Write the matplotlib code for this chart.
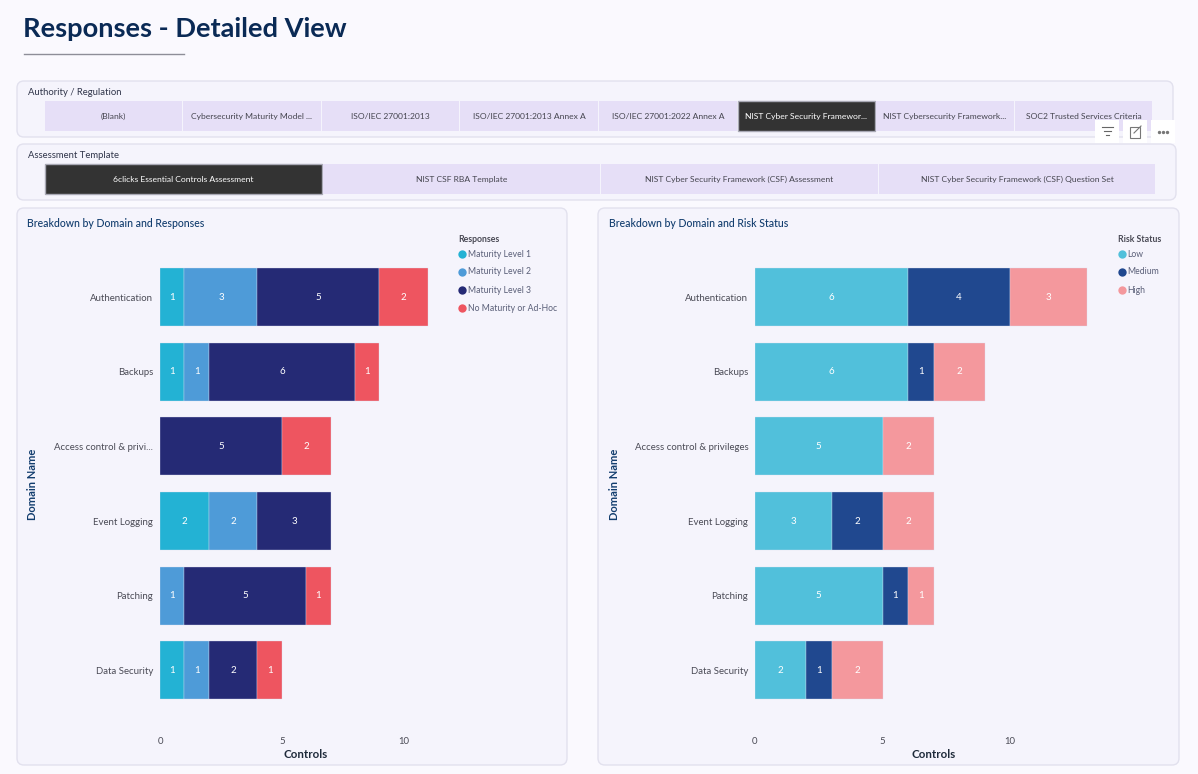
import matplotlib
matplotlib.use("Agg")
import matplotlib.pyplot as plt
from matplotlib.patches import FancyBboxPatch, Rectangle
import numpy as np

plt.rcParams['font.family'] = ['Lato', 'DejaVu Sans']

TITLE = "Responses - Detailed View"
domains_left = ["Authentication", "Backups", "Access control & privi...", "Event Logging", "Patching", "Data Security"]
domains_right = ["Authentication", "Backups", "Access control & privileges", "Event Logging", "Patching", "Data Security"]

maturity_1 = [1, 1, 0, 2, 0, 1]
maturity_2 = [3, 1, 0, 2, 1, 1]
maturity_3 = [5, 6, 5, 3, 5, 2]
no_maturity = [2, 1, 2, 0, 1, 1]
response_names = ["Maturity Level 1", "Maturity Level 2", "Maturity Level 3", "No Maturity or Ad-Hoc"]

risk_low = [6, 6, 5, 3, 5, 2]
risk_medium = [4, 1, 0, 2, 1, 1]
risk_high = [3, 2, 2, 2, 1, 2]
risk_names = ["Low", "Medium", "High"]

authority_items = ["(Blank)", "Cybersecurity Maturity Model ...", "ISO/IEC 27001:2013", "ISO/IEC 27001:2013 Annex A",
                   "ISO/IEC 27001:2022 Annex A", "NIST Cyber Security Framewor...", "NIST Cybersecurity Framework...",
                   "SOC2 Trusted Services Criteria"]
template_items = ["6clicks Essential Controls Assessment", "NIST CSF RBA Template",
                  "NIST Cyber Security Framework (CSF) Assessment", "NIST Cyber Security Framework (CSF) Question Set"]

W, H = 1198, 774
fig = plt.figure(figsize=(W / 100, H / 100), dpi=100, facecolor="#FAF9FE")
bg = fig.add_axes([0, 0, 1, 1], zorder=0)
bg.set_xlim(0, W); bg.set_ylim(H, 0); bg.axis("off")

PANEL = "#F5F4FC"; EDGE = "#E2E1EE"; SLICER = "#E6DFF7"; DARK = "#333333"
TXT = "#4A4A55"


def panel(x0, y0, x1, y1):
    bg.add_patch(FancyBboxPatch((x0 + 6, y0 + 6), x1 - x0 - 12, y1 - y0 - 12,
                                boxstyle="round,pad=6,rounding_size=7", fc=PANEL, ec=EDGE, lw=1))


def slicer(items, x0, x1, y0, y1, selected):
    w = (x1 - x0) / len(items)
    for i, t in enumerate(items):
        sel = i == selected
        bg.add_patch(Rectangle((x0 + i * w + 0.6, y0), w - 1.2, y1 - y0, fc=DARK if sel else SLICER,
                               ec="#A9A9B5" if sel else "none", lw=1))
        bg.text(x0 + (i + .5) * w, (y0 + y1) / 2 + .4, t, ha="center", va="center", fontsize=6.1,
                color="white" if sel else "#45454F")


bg.text(23, 29, TITLE, fontsize=19.6, fontweight="bold", color="#0A2A55", va="center", ha="left")
bg.plot([24, 184], [53.5, 53.5], color="#8E8E98", lw=1)

panel(17, 81, 1173, 137)
panel(17, 144, 1176, 200)
panel(17, 208, 567, 765)
panel(598, 208, 1179, 765)

bg.text(28, 92.5, "Authority / Regulation", fontsize=6.8, color="#30354A", va="center")
bg.text(28, 155.5, "Assessment Template", fontsize=6.8, color="#30354A", va="center")
slicer(authority_items, 44, 1153, 101, 131, 5)
slicer(template_items, 44.5, 1156, 164, 194, 0)

# visual header icons
for x0 in (1095, 1123, 1151):
    bg.add_patch(Rectangle((x0, 120), 24, 23, fc="white", ec="none", zorder=5))
for wd, y in ((11, 127), (7, 131), (3, 135)):
    bg.plot([1107 - wd / 2, 1107 + wd / 2], [y, y], color="#666666", lw=.8, zorder=6)
bg.add_patch(Rectangle((1129.5, 127), 10.5, 10.5, fc="none", ec="#777777", lw=.8, zorder=6))
bg.plot([1134, 1141], [133, 126], color="#777777", lw=.8, zorder=6)
bg.scatter([1159, 1163, 1167], [132, 132, 132], s=2, color="#777777", zorder=6)

bg.text(27, 223.2, "Breakdown by Domain and Responses", fontsize=7.6, color="#123D6E", va="center", fontweight="medium")
bg.text(609, 223.2, "Breakdown by Domain and Risk Status", fontsize=7.6, color="#123D6E", va="center", fontweight="medium")

TOP, BOT = 259.7, 707.7


def chart(x0, px_per_unit, xmax, labels, series, colors, label_colors, ticks):
    x1 = x0 + px_per_unit * xmax
    ax = fig.add_axes([x0 / W, 1 - BOT / H, (x1 - x0) / W, (BOT - TOP) / H], zorder=2)
    ax.patch.set_alpha(0)
    y = np.arange(len(labels))
    left = np.zeros(len(labels))
    for vals, c, lc in zip(series, colors, label_colors):
        vals = np.array(vals)
        mask = vals > 0
        ax.barh(y[mask], vals[mask], left=left[mask], height=.78, color=c, edgecolor="#D9DDF0", linewidth=.25)
        for yi, l, v in zip(y[mask], left[mask], vals[mask]):
            ax.text(l + v / 2, yi, str(v), ha="center", va="center", color=lc, fontsize=7)
        left += vals
    ax.set_ylim(len(labels) - .5, -.5)
    ax.set_xlim(0, xmax)
    ax.set_yticks(y, labels)
    ax.set_xticks(ticks)
    ax.tick_params(axis="y", length=0, pad=4.8, labelsize=6.9, labelcolor=TXT)
    ax.tick_params(axis="x", length=0, pad=21, labelsize=6.9, labelcolor=TXT)
    for s in ax.spines.values():
        s.set_visible(False)
    return ax


chart(160, 24.37, 12, domains_left, [maturity_1, maturity_2, maturity_3, no_maturity],
      ["#23B2D4", "#4E9BD8", "#252A75", "#EE5560"], ["white"] * 4, [0, 5, 10])
chart(755, 25.5, 14, domains_right, [risk_low, risk_medium, risk_high],
      ["#51C0DB", "#20488F", "#F4989D"], ["white"] * 3, [0, 5, 10])

bg.text(33, 484, "Domain Name", rotation=90, ha="center", va="center", fontsize=8, color="#123D6E", fontweight="bold")
bg.text(615, 484, "Domain Name", rotation=90, ha="center", va="center", fontsize=8, color="#123D6E", fontweight="bold")
bg.text(305.5, 754, "Controls", ha="center", va="center", fontsize=8.3, color="#1E2A3A", fontweight="bold")
bg.text(933.5, 754, "Controls", ha="center", va="center", fontsize=8.3, color="#1E2A3A", fontweight="bold")

# legends
bg.text(458, 239.5, "Responses", fontsize=6.3, fontweight="bold", color="#4A4A55", va="center")
for name, c, yy in zip(response_names, ["#23B2D4", "#4E9BD8", "#252A75", "#EE5560"], [253.5, 271, 289.5, 307.5]):
    bg.scatter([462], [yy + .5], s=36, color=c, linewidths=0)
    bg.text(468, yy + .6, name, fontsize=6.2, color="#5A5F78", va="center")
bg.text(1117.5, 239.5, "Risk Status", fontsize=6.3, fontweight="bold", color="#4A4A55", va="center")
for name, c, yy in zip(risk_names, ["#51C0DB", "#20488F", "#F4989D"], [253.5, 271, 289.5]):
    bg.scatter([1121.5], [yy + .5], s=36, color=c, linewidths=0)
    bg.text(1127.5, yy + .6, name, fontsize=6.2, color="#5A5F78", va="center")

fig.savefig("out.png", dpi=100, facecolor=fig.get_facecolor())
